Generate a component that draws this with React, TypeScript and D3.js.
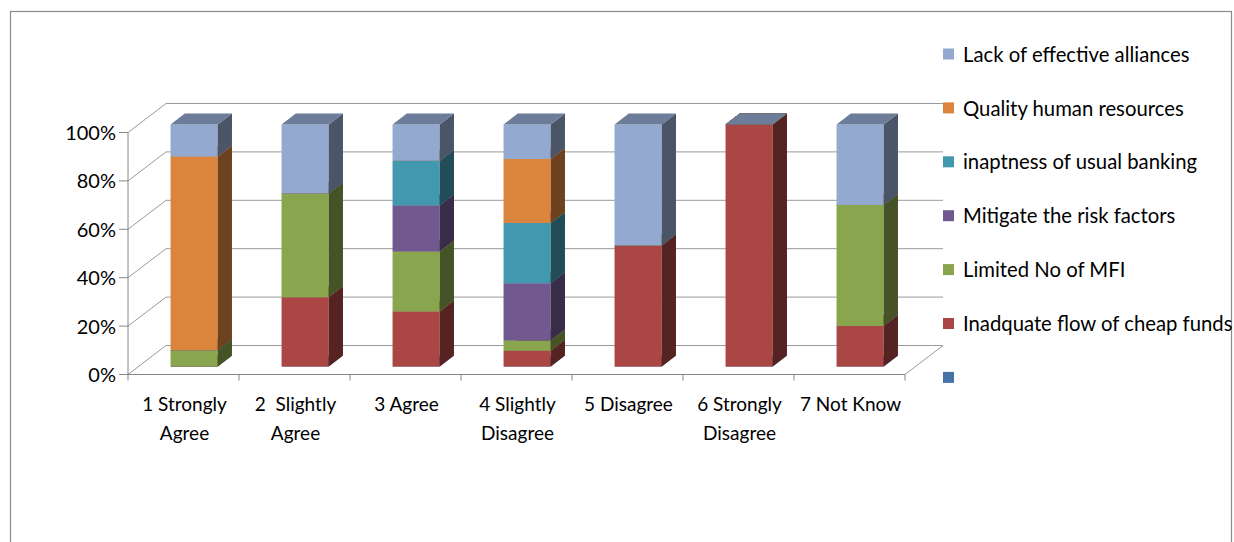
import React from "react";
import * as d3 from "d3";

// Response categories (x axis), one line per array entry
const categories = ["c1", "c2", "c3", "c4", "c5", "c6", "c7"];
const categoryLabels: string[][] = [
  ["1 Strongly", "Agree"],
  ["2  Slightly", "Agree"],
  ["3 Agree"],
  ["4 Slightly", "Disagree"],
  ["5 Disagree"],
  ["6 Strongly", "Disagree"],
  ["7 Not Know"],
];

// Series, stacked bottom to top (percent of respondents)
const seriesNames = [
  "",
  "Inadquate flow of cheap funds",
  "Limited No of MFI",
  "Mitigate the risk factors",
  "inaptness of usual banking",
  "Quality human resources",
  "Lack of effective alliances",
];
const seriesColors = ["#4572A7", "#AA4643", "#89A54E", "#71588F", "#4198AF", "#DB843D", "#93A9CF"];

const blankSeries = [0, 0, 0, 0, 0, 0, 0];
const cheapFunds = [0, 28.6, 22.7, 6.5, 50, 100, 16.7];
const limitedMfi = [6.7, 42.8, 24.8, 4.2, 0, 0, 50];
const riskFactors = [0, 0, 19.0, 23.7, 0, 0, 0];
const usualBanking = [0, 0, 18.5, 24.8, 0, 0, 0];
const humanResources = [80, 0, 0, 26.5, 0, 0, 0];
const alliances = [13.3, 28.6, 15.0, 14.3, 50, 0, 33.3];

const seriesValues = [blankSeries, cheapFunds, limitedMfi, riskFactors, usualBanking, humanResources, alliances];

const yTicks = [0, 0.2, 0.4, 0.6, 0.8, 1];

const W = 1234;
const H = 542;
const FONT = "Lato, 'Carlito', 'Open Sans', sans-serif";

// oblique depth projection of the 3-D plot box
const DEPTH_X = 38;
const DEPTH_Y = 29;
const BAR_FRONT = 0.28;
const BAR_BACK = 0.655;

export default function App() {
  const x = d3.scaleBand<string>().domain(categories).range([128, 905]).paddingInner(0.575).paddingOuter(0.2875);
  const xCat = d3.scaleBand<string>().domain(categories).range([128, 905]);
  const y = d3.scaleLinear().domain([0, 1]).range([374.5, 132.5]);

  const rows = categories.map((c, i) => {
    const r: Record<string, number | string> = { cat: c };
    seriesNames.forEach((_, s) => (r["s" + s] = seriesValues[s][i]));
    return r;
  });
  const keys = seriesNames.map((_, s) => "s" + s);
  const stacked = d3.stack<any>().keys(keys).offset(d3.stackOffsetExpand)(rows as any);

  const P = (px: number, v: number, d: number): [number, number] => [px + d * DEPTH_X, y(v) - d * DEPTH_Y];
  const poly = (pts: [number, number][]) => pts.map((p) => p.map((n) => n.toFixed(2)).join(",")).join(" ");

  const shade = (c: string, k: number) => {
    const rgb = d3.rgb(c);
    return d3.rgb(rgb.r * k, rgb.g * k, rgb.b * k).formatHex();
  };

  const gridColor = "#9a9a9a";
  const axisColor = "#868686";
  const bw = x.bandwidth();

  const bars: React.ReactNode[] = [];
  categories.forEach((c, i) => {
    const x0 = x(c)!;
    const x1 = x0 + bw;
    stacked.forEach((layer, s) => {
      const [v0, v1] = layer[i];
      const col = seriesColors[s];
      const front = poly([P(x0, v0, BAR_FRONT), P(x1, v0, BAR_FRONT), P(x1, v1, BAR_FRONT), P(x0, v1, BAR_FRONT)]);
      const side = poly([P(x1, v0, BAR_FRONT), P(x1, v0, BAR_BACK), P(x1, v1, BAR_BACK), P(x1, v1, BAR_FRONT)]);
      const top = poly([P(x0, v1, BAR_FRONT), P(x1, v1, BAR_FRONT), P(x1, v1, BAR_BACK), P(x0, v1, BAR_BACK)]);
      bars.push(
        <g key={c + s}>
          {v1 > v0 && <polygon points={front} fill={col} />}
          {v1 > v0 && <polygon points={side} fill={shade(col, 0.5)} />}
          <polygon points={top} fill={shade(col, 0.74)} />
        </g>
      );
    });
  });

  const legendNames = seriesNames.slice().reverse();
  const legendColors = seriesColors.slice().reverse();

  return (
    <svg
      width={W}
      height={H}
      style={{ position: "absolute", left: 0, top: 0, background: "#fff" }}
      fontFamily={FONT}
    >
      <rect x={10.5} y={11.5} width={1221} height={560} fill="#fff" stroke="#8a8a8a" strokeWidth={1.2} />

      {/* back wall and side wall gridlines */}
      {yTicks.map((t) => {
        const [bx, by] = P(128, t, 1);
        const [ex] = P(905, t, 1);
        return (
          <g key={"g" + t}>
            <line x1={bx} y1={by} x2={ex} y2={by} stroke={gridColor} strokeWidth={1} />
            <line x1={128} y1={y(t)} x2={bx} y2={by} stroke={gridColor} strokeWidth={1} />
          </g>
        );
      })}
      {/* floor right edge */}
      <line x1={905} y1={y(0)} x2={905 + DEPTH_X} y2={y(0) - DEPTH_Y} stroke={gridColor} strokeWidth={1} />

      {/* value axis */}
      <line x1={128} y1={y(0)} x2={128} y2={y(1)} stroke={axisColor} strokeWidth={1} />
      {yTicks.map((t) => (
        <g key={"t" + t}>
          <line x1={119} y1={y(t)} x2={128} y2={y(t)} stroke={axisColor} strokeWidth={1} />
          <text x={116} y={y(t) + 2.5} textAnchor="end" dominantBaseline="middle" fontSize={20} fill="#000">
            {d3.format(".0%")(t)}
          </text>
        </g>
      ))}

      {/* category axis */}
      <line x1={128} y1={y(0)} x2={905} y2={y(0)} stroke={axisColor} strokeWidth={1} />
      {categories.concat(["end"]).map((c, i) => {
        const px = i < categories.length ? xCat(c)! : 905;
        return <line key={"xt" + i} x1={px} y1={y(0)} x2={px} y2={y(0) + 6} stroke={axisColor} strokeWidth={1} />;
      })}
      {categories.map((c, i) => (
        <text
          key={"xl" + c}
          x={xCat(c)! + xCat.bandwidth() / 2 + 1}
          y={411}
          textAnchor="middle"
          fontSize={19}
          fill="#000"
          style={{ whiteSpace: "pre" }}
        >
          {categoryLabels[i].map((line, k) => (
            <tspan key={k} x={xCat(c)! + xCat.bandwidth() / 2 + 1} dy={k === 0 ? 0 : 29}>
              {line}
            </tspan>
          ))}
        </text>
      ))}

      {bars}

      {/* legend */}
      {legendNames.map((name, k) => {
        const cy = 54 + k * 53.9;
        return (
          <g key={"lg" + k}>
            <rect x={943} y={cy - 5.5} width={11} height={11} fill={legendColors[k]} />
            <text x={963} y={cy + 2.5} dominantBaseline="middle" fontSize={20.3} fill="#000">
              {name}
            </text>
          </g>
        );
      })}
    </svg>
  );
}
